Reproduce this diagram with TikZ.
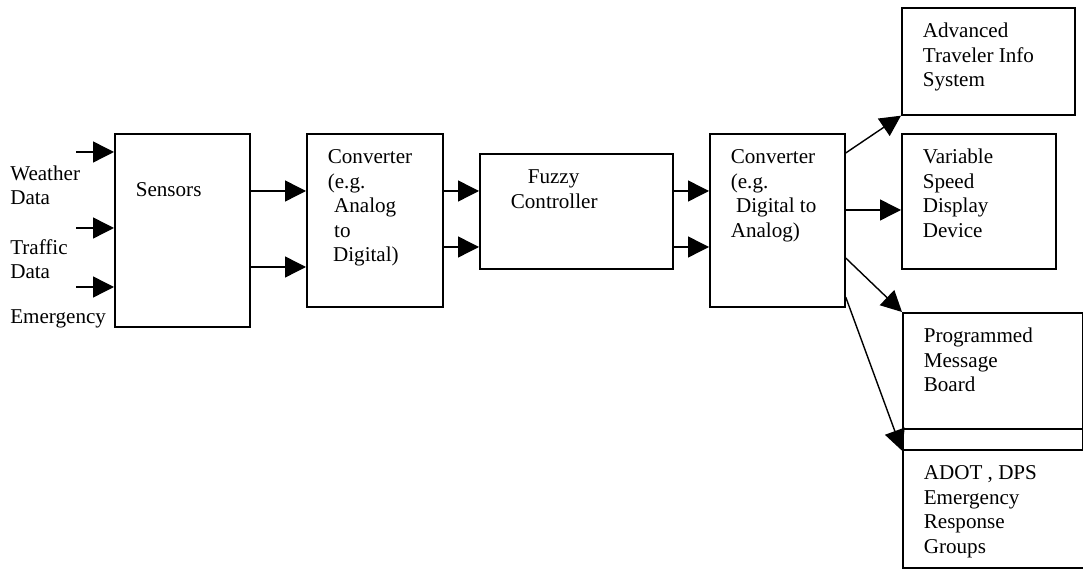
\documentclass[tikz,border=0pt]{standalone}
\usepackage{fontspec}
\setmainfont{Liberation Serif}
\usetikzlibrary{arrows.meta}

% one unit of the drawing grid
\newdimen\pxlen
\pxlen=0.025cm

% lines set from the top left corner of a block
\newcommand{\blocktext}[4][0]{%
  \parbox[t][#3\pxlen][t]{#2\pxlen}{\leftskip=21\pxlen
    \vspace*{\dimexpr #1\pxlen+9.2pt\relax}\strut #4}}

\tikzset{
  every node/.style={font=\fontsize{15}{17.4}\selectfont},
  block/.style={draw, line width=1.2pt, anchor=north west, inner sep=0pt},
  lbl/.style={anchor=base west, align=left, inner sep=0pt},
  flow/.style={-{Triangle[length=0.52cm, width=0.52cm]}, line width=1pt}
}

\begin{document}
\begin{tikzpicture}[x=0.025cm, y=-0.025cm]
\useasboundingbox (0,0) rectangle (1083,569);

% Blocks
\node[block] (sens)  at (114,133) {\blocktext[33]{135}{193}{Sensors}};
\node[block] (conv1) at (306,133) {\blocktext{136}{173}{Converter\\(e.g.\\\hspace*{.3em}Analog\\\hspace*{.3em}to\\\hspace*{.25em}Digital)}};
\node[block] (fuzzy) at (479,153) {\blocktext{193}{115}{\hspace*{27\pxlen}Fuzzy\\\hspace*{10\pxlen}Controller}};
\node[block] (conv2) at (709,133) {\blocktext{135}{173}{Converter\\(e.g.\\\hspace*{.25em}Digital to\\Analog)}};

% Output devices
\node[block] (atis) at (901,7)   {\blocktext{173}{107}{Advanced\\Traveler Info\\System}};
\node[block] (vsd)  at (901,133) {\blocktext{154}{135}{Variable\\Speed\\Display\\Device}};
\node[block] (adot) at (902,428) {\blocktext[21]{200}{139}{ADOT , DPS\\Emergency\\Response\\Groups}};
\node[block] (pmb)  at (902,312) {\blocktext{180}{137}{Programmed\\Message\\Board}};

% Inputs (base = last line)
\node[lbl] (wth) at (10,205) {Weather\\Data};
\node[lbl] (trf) at (10,279) {Traffic\\Data};
\node[lbl] (emg) at (10,324) {Emergency};

\coordinate (wIn) at (76,152);
\coordinate (tIn) at (76,228);
\coordinate (eIn) at (76,287);

% Signal levels
\coordinate (r1) at (0,191);
\coordinate (r2) at (0,267);
\coordinate (r3) at (0,247);
\coordinate (r4) at (0,210);
\coordinate (d1) at (0,153);
\coordinate (d3) at (0,258);
\coordinate (d4) at (0,297);

% Arrows
\draw[flow] (wIn) -- (sens.west |- wIn);
\draw[flow] (tIn) -- (sens.west |- tIn);
\draw[flow] (eIn) -- (sens.west |- eIn);

\draw[flow] (sens.east |- r1) -- (conv1.west |- r1);
\draw[flow] (sens.east |- r2) -- (conv1.west |- r2);
\draw[flow] (conv1.east |- r1) -- (fuzzy.west |- r1);
\draw[flow] (conv1.east |- r3) -- (fuzzy.west |- r3);
\draw[flow] (fuzzy.east |- r1) -- (conv2.west |- r1);
\draw[flow] (fuzzy.east |- r3) -- (conv2.west |- r3);

\draw[flow] (conv2.east |- d1) -- (atis.south west);
\draw[flow] (conv2.east |- r4) -- (vsd.west |- r4);
\draw[flow] (conv2.east |- d3) -- (pmb.north west);
\draw[flow] (conv2.east |- d4) -- (pmb.south west);

\end{tikzpicture}
\end{document}
